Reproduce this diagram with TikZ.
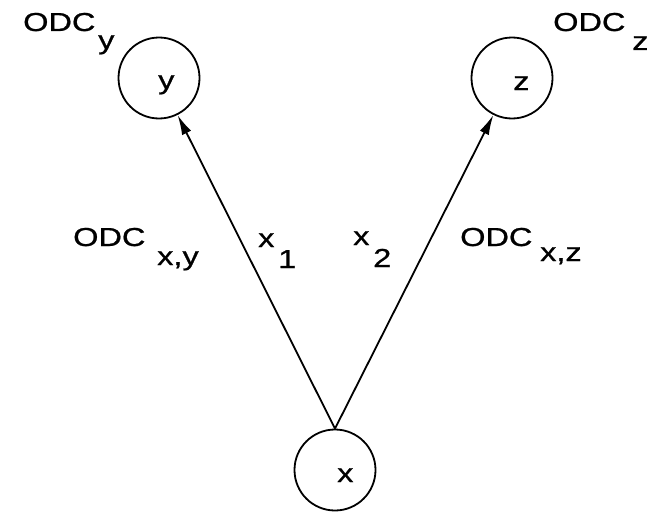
\documentclass[tikz,border=0pt]{standalone}
\usepackage{fontspec}
\setmainfont{Liberation Sans}[FakeStretch=1.25,FakeBold=0.8]
\usetikzlibrary{arrows.meta}
\begin{document}
\begin{tikzpicture}[x=1pt,y=-1pt,
  vert/.style={draw,circle,minimum size=81pt,inner sep=0pt,line width=1.8pt},
  txt/.style={anchor=base west,inner sep=0pt,font=\fontsize{26}{30}\selectfont},
  arr/.style={line width=1.8pt,-{Latex[length=20pt,width=10pt]}}]
\useasboundingbox (0,0) rectangle (658,511);
% vertices
\node[vert] (y) at (159,78) {};
\node[vert] (z) at (512,78) {};
\node[vert] (x) at (335,470) {};
\node[txt] (yl) at (158,89) {y};
\node[txt] (zl) at (513,90) {z};
\node[txt] (xl) at (337,482) {x};
% edges
\draw[arr] (x.north) -- (y);
\draw[arr] (x.north) -- (z);
% ODC labels
\node[txt] (odcy) at (23,31) {ODC};
\node[txt] (odcys) at (98,49) {y};
\node[txt] (odcz) at (553,31) {ODC};
\node[txt] (odczs) at (632,50) {z};
\node[txt] (odcxy) at (73,246) {ODC};
\node[txt] (odcxys) at (157,265) {x,y};
\node[txt] (odcxz) at (460,246) {ODC};
\node[txt] (odcxzs) at (540,261) {x,z};
% edge labels
\node[txt] (x1) at (258,247) {x};
\node[txt] (x1s) at (278,268) {1};
\node[txt] (x2) at (353,245) {x};
\node[txt] (x2s) at (373,267) {2};
\end{tikzpicture}
\end{document}
